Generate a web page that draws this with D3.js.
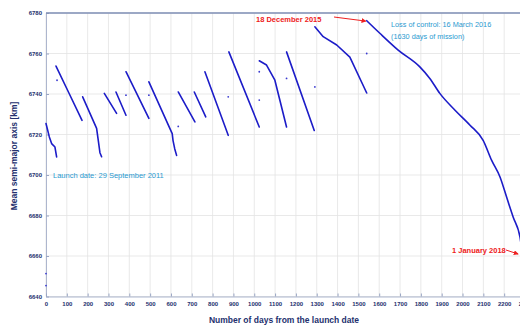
<!DOCTYPE html>
<html><head><meta charset="utf-8">
<script src="https://cdn.jsdelivr.net/npm/d3@7"></script>
<style>html,body{margin:0;padding:0;background:#fff;overflow:hidden}</style>
</head><body><svg id="c" width="520" height="328"></svg>
<script>
// ---- data (day from launch, mean semi-major axis km) ----
const xTicks = [0,100,200,300,400,500,600,700,800,900,1000,1100,1200,1300,1400,1500,1600,1700,1800,1900,2000,2100,2200,2300];
const yTicks = [6640,6660,6680,6700,6720,6740,6760,6780];
const segments = [
  [[0,6725.4],[16,6718.8],[27,6715.5],[43,6713.8],[51,6708.9]],
  [[48,6753.8],[110,6740.5],[173,6727]],
  [[176,6738.6],[243,6723],[251,6717.1],[259,6711],[267,6709]],
  [[280,6740.3],[339,6730.4]],
  [[336,6741],[384,6729.5]],
  [[384,6751],[494,6728]],
  [[494,6746],[606,6720.4],[610,6717],[618,6713],[627,6709.7]],
  [[635,6741],[715,6726.2]],
  [[712,6741],[767,6728.7]],
  [[763,6751],[875,6719.6]],
  [[878,6760.8],[1024,6723.7]],
  [[1024,6756.4],[1059,6754.3],[1099,6746.8],[1123,6736.9],[1155,6723.7]],
  [[1155,6760.8],[1288,6722]],
  [[1291,6773.2],[1331,6768.3],[1396,6764.2],[1459,6758.2],[1540,6740.5]]
];
const finalDecay = [[1540,6776.2],[1603,6770],[1691,6761.7],[1795,6753.4],[1843,6747.7],[1891,6740.3],[1964,6732],[2036,6724.6],[2099,6717.1],[2140,6707.2],[2180,6699],[2212,6689],[2243,6679.2],[2276,6669.3],[2290,6659.5]];
const isolated = [[0,6651.3],[0,6645.4],[53,6746.8],[384,6739.4],[494,6739.4],[635,6724],[875,6738.6],[1024,6751],[1024,6737],[1155,6747.7],[1291,6743.5],[1540,6760]];
const yTitle = "Mean semi-major axis [km]";
const xTitle = "Number of days from the launch date";

const svg = d3.select("#c");
const L=46, R=525, T=13, B=296.5;
const x = d3.scaleLinear().domain([0,2300]).range([L,R]);
const y = d3.scaleLinear().domain([6640,6780]).range([B,T]);
const grid="#e3e3e3", ax="#9aa6c4", lab="#23306e";

// grid
svg.append("g").selectAll("line").data(xTicks).join("line")
  .attr("x1",d=>x(d)).attr("x2",d=>x(d)).attr("y1",T).attr("y2",B)
  .attr("stroke",grid).attr("stroke-width",0.8);
svg.append("g").selectAll("line").data(yTicks).join("line")
  .attr("x1",L).attr("x2",R).attr("y1",d=>y(d)).attr("y2",d=>y(d))
  .attr("stroke",grid).attr("stroke-width",0.8);

// axes
const xa = svg.append("g").attr("transform",`translate(0,${B})`)
  .call(d3.axisBottom(x).tickValues(xTicks).tickFormat(d3.format("d")).tickSizeInner(-3).tickSizeOuter(0).tickPadding(5));
const ya = svg.append("g").attr("transform",`translate(${L},0)`)
  .call(d3.axisLeft(y).tickValues(yTicks).tickFormat(d3.format("d")).tickSizeInner(-3).tickSizeOuter(0).tickPadding(4));
[xa,ya].forEach(g=>{
  g.select(".domain").attr("stroke",ax).attr("stroke-width",0.8);
  g.selectAll(".tick line").attr("stroke",ax);
  g.selectAll("text").attr("fill",lab).attr("font-size",6).attr("font-weight","bold")
   .attr("font-family","Liberation Sans, Arial, sans-serif");
});
// top border
svg.append("line").attr("x1",L).attr("x2",R).attr("y1",T).attr("y2",T)
  .attr("stroke","#7f8fb6").attr("stroke-width",1.6);

// data
const line = d3.line().x(d=>x(d[0])).y(d=>y(d[1]));
const smooth = d3.line().x(d=>x(d[0])).y(d=>y(d[1])).curve(d3.curveMonotoneX);
const g = svg.append("g").attr("fill","none").attr("stroke","#1c1cc8").attr("stroke-width",1.6)
  .attr("stroke-linejoin","round").attr("stroke-linecap","round");
g.selectAll("path.s").data(segments).join("path").attr("class","s").attr("d",line);
g.append("path").datum(finalDecay).attr("d",smooth);
svg.append("g").selectAll("circle").data(isolated).join("circle")
  .attr("cx",d=>x(d[0])).attr("cy",d=>y(d[1])).attr("r",0.9).attr("fill","#3a3ad0");

// titles
svg.append("text").attr("x",284).attr("y",323).attr("text-anchor","middle")
  .attr("font-family","Liberation Sans, Arial, sans-serif").attr("font-size",8.5).attr("font-weight","bold")
  .attr("fill",lab).text(xTitle);
svg.append("text").attr("transform","translate(17,156) rotate(-90)").attr("text-anchor","middle")
  .attr("font-family","Liberation Sans, Arial, sans-serif").attr("font-size",8.5).attr("font-weight","bold")
  .attr("fill",lab).text(yTitle);

// annotations
const ff="Liberation Sans Narrow, Liberation Sans, Arial, sans-serif";
svg.append("text").attr("x",53).attr("y",178).attr("font-family",ff).attr("font-size",7.5)
  .attr("fill","#2a9ad0").text("Launch date: 29 September 2011");
svg.append("text").attr("x",391).attr("y",27).attr("font-family",ff).attr("font-size",7.3)
  .attr("fill","#2a9ad0").text("Loss of control: 16 March 2016");
svg.append("text").attr("x",391).attr("y",39).attr("font-family",ff).attr("font-size",7.3)
  .attr("fill","#2a9ad0").text("(1630 days of mission)");
svg.append("text").attr("x",256).attr("y",22).attr("font-family",ff).attr("font-size",7.5).attr("font-weight","bold")
  .attr("fill","#ee2020").text("18 December 2015");
svg.append("text").attr("x",452).attr("y",253).attr("font-family",ff).attr("font-size",7.5).attr("font-weight","bold")
  .attr("fill","#ee2020").text("1 January 2018");
const defs = svg.append("defs");
defs.append("marker").attr("id","ah").attr("viewBox","0 0 6 6").attr("refX",5).attr("refY",3)
  .attr("markerWidth",5).attr("markerHeight",5).attr("orient","auto")
  .append("path").attr("d","M0,0L6,3L0,6Z").attr("fill","#ee2020");
svg.append("line").attr("x1",334).attr("y1",17).attr("x2",x(1535)).attr("y2",y(6776))
  .attr("stroke","#ee2020").attr("stroke-width",1).attr("marker-end","url(#ah)");
svg.append("line").attr("x1",506).attr("y1",250).attr("x2",518).attr("y2",254)
  .attr("stroke","#ee2020").attr("stroke-width",1).attr("marker-end","url(#ah)");
</script></body></html>
